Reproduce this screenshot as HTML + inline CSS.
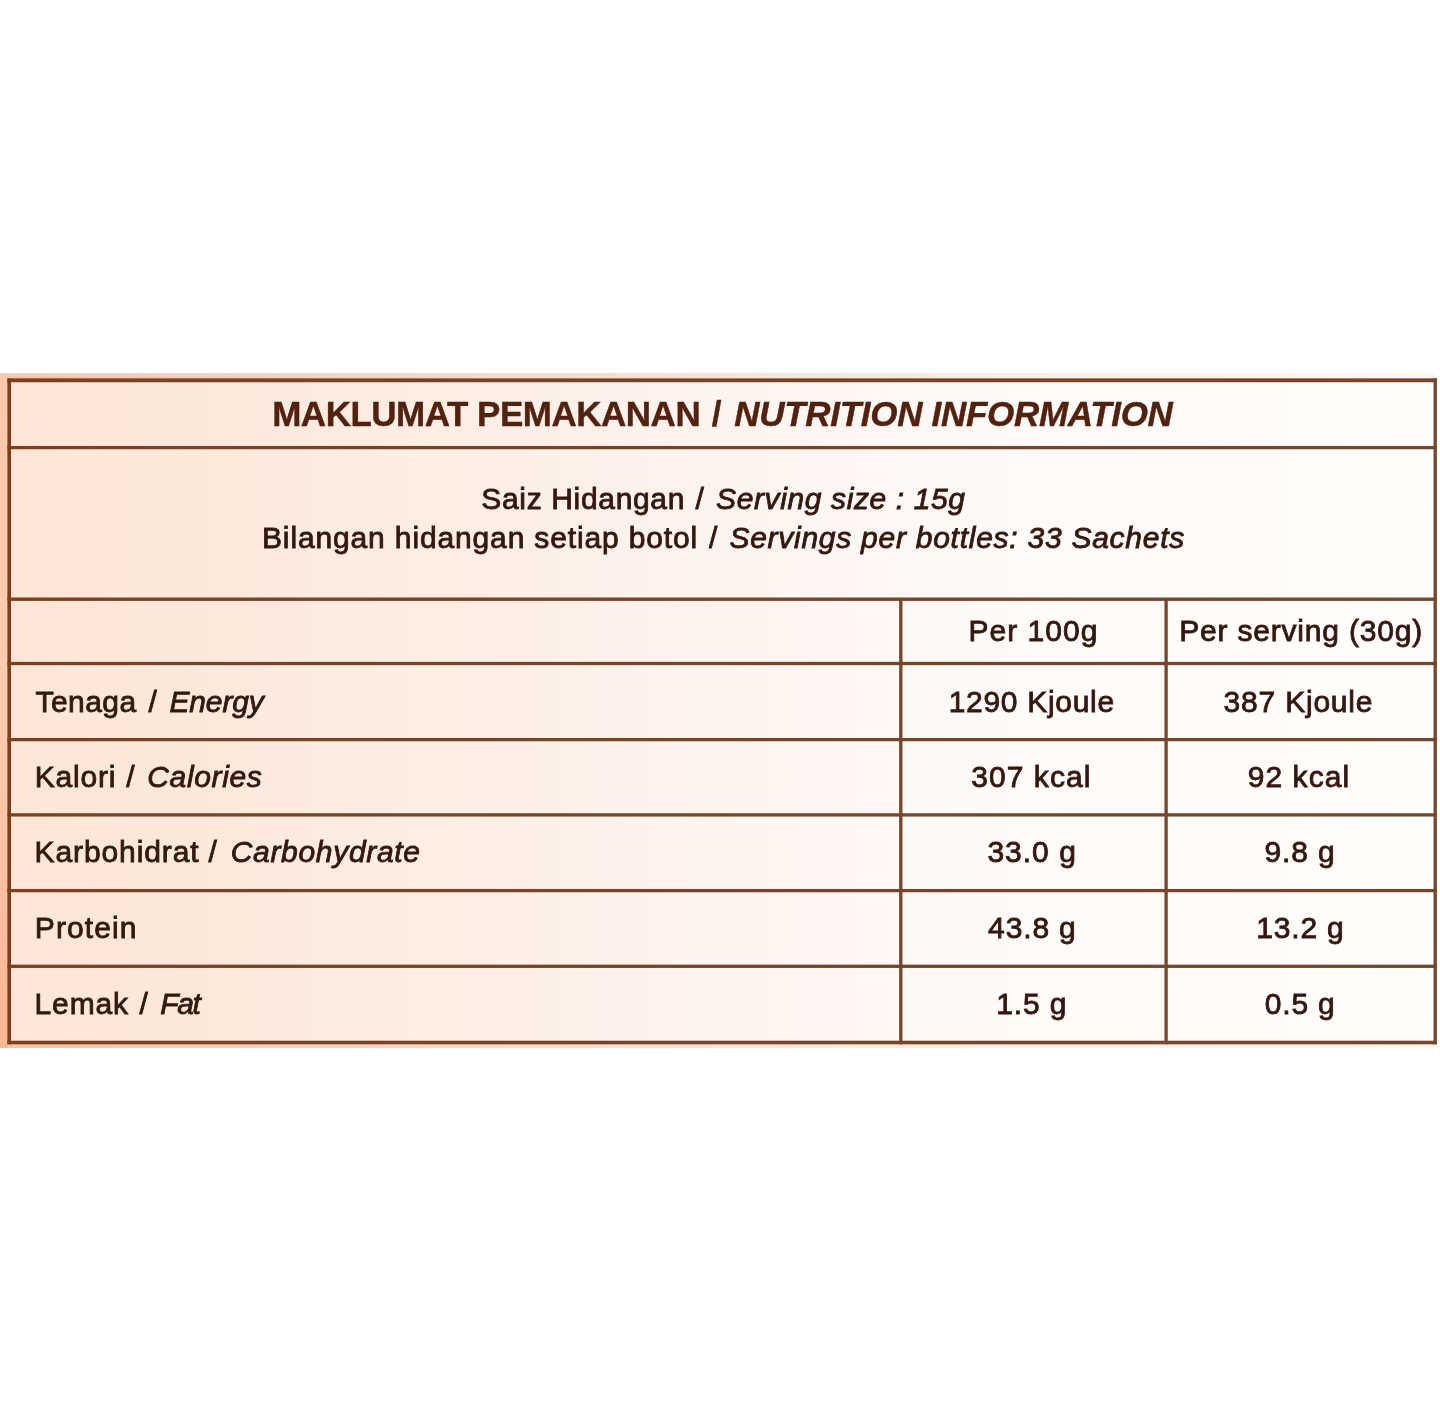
<!DOCTYPE html>
<html lang="ms">
<head>
<meta charset="utf-8">
<title>Maklumat Pemakanan / Nutrition Information</title>
<style>
*{margin:0;padding:0;box-sizing:border-box}
html,body{width:1440px;height:1411px;background:#fff;overflow:hidden}
body{position:relative;font-family:"Liberation Sans",Arial,sans-serif;color:#34180f}
#panel{position:absolute;left:0;top:373px;width:1438px;height:675px;
 background:linear-gradient(90deg,#f6c4a8 0%,#f8cdb4 15%,#fad9c6 35%,#fce6d9 55%,#fdf0e8 75%,#fef6f1 100%)}
#topband{position:absolute;left:0;top:373px;width:1438px;height:3px;
 background:linear-gradient(90deg,#ecd0bc 0%,#f1dccd 35%,#f8ece3 65%,#fdf8f4 100%)}
#inner{position:absolute;left:9px;top:380px;width:1427px;height:663px;
 background:linear-gradient(90deg,#fde6d7 0%,#fce9dc 14%,#fdede2 28%,#fdf1eb 42%,#fef6f2 56%,#fefaf7 70%,#fffcfa 90%,#fffdfb 100%)}
#strip{position:absolute;left:0;top:375px;width:8px;height:673px;background:linear-gradient(180deg,#fbc9ae 0%,#facdb0 50%,#fab594 100%)}
#grid{position:absolute;left:0;top:0}
.t{position:absolute;white-space:nowrap;line-height:40px;height:40px;font-size:30px;-webkit-text-stroke:0.85px currentColor}
.T{font-size:35px;color:#52210f;-webkit-text-stroke:0.4px currentColor}
.b{font-weight:bold}
.i{font-style:italic}
</style>
</head>
<body>
<div id="panel"></div>
<div id="topband"></div>
<div id="inner"></div>
<div id="strip"></div>
<svg id="grid" width="1440" height="1411" viewBox="0 0 1440 1411"><defs><linearGradient id="lg" gradientUnits="userSpaceOnUse" x1="0" y1="0" x2="1440" y2="0"><stop offset="0" stop-color="#7e3e1b"/><stop offset="0.12" stop-color="#784326"/><stop offset="1" stop-color="#74462c"/></linearGradient></defs><g fill="url(#lg)">
<rect x="7.40" y="378.35" width="1429.45" height="3.9"/>
<rect x="7.40" y="445.95" width="1429.45" height="3.3"/>
<rect x="7.40" y="597.50" width="1429.45" height="3.4"/>
<rect x="7.40" y="661.85" width="1429.45" height="3.3"/>
<rect x="7.40" y="737.95" width="1429.45" height="3.3"/>
<rect x="7.40" y="813.25" width="1429.45" height="3.3"/>
<rect x="7.40" y="888.95" width="1429.45" height="3.3"/>
<rect x="7.40" y="964.65" width="1429.45" height="3.3"/>
<rect x="7.40" y="1040.70" width="1429.45" height="3.6"/>
<rect x="7.40" y="378.35" width="3.6" height="665.95"/>
<rect x="1433.55" y="378.35" width="3.3" height="665.95"/>
<rect x="899.15" y="599.20" width="3.3" height="445.10"/>
<rect x="1164.45" y="599.20" width="3.3" height="445.10"/>
</g></svg>
<span class="t b T" id="ta" style="left:272.2px;top:394.3px;letter-spacing:-0.49px">MAKLUMAT PEMAKANAN</span>
<span class="t b T" id="tas" style="left:711.7px;top:394.3px;letter-spacing:0.00px">/</span>
<span class="t b i T" id="tb" style="left:734.3px;top:394.3px;letter-spacing:-0.30px">NUTRITION INFORMATION</span>
<span class="t" id="s1a" style="left:481.3px;top:478.7px;letter-spacing:0.66px">Saiz Hidangan</span>
<span class="t" id="s1s" style="left:695.6px;top:478.7px;letter-spacing:0.00px">/</span>
<span class="t i" id="s1b" style="left:716.1px;top:478.7px;letter-spacing:0.61px">Serving size : 15g</span>
<span class="t" id="s2a" style="left:262.0px;top:517.8px;letter-spacing:0.86px">Bilangan hidangan setiap botol</span>
<span class="t" id="s2s" style="left:709.0px;top:517.8px;letter-spacing:0.00px">/</span>
<span class="t i" id="s2b" style="left:729.4px;top:517.8px;letter-spacing:0.74px">Servings per bottles: 33 Sachets</span>
<span class="t" id="h1" style="left:968.5px;top:611.0px;letter-spacing:1.01px">Per 100g</span>
<span class="t" id="h2" style="left:1179.2px;top:611.0px;letter-spacing:0.81px">Per serving (30g)</span>
<span class="t" id="r1a" style="left:35.6px;top:681.7px;letter-spacing:0.42px">Tenaga</span>
<span class="t" id="r1s" style="left:148.4px;top:681.7px;letter-spacing:0.00px">/</span>
<span class="t i" id="r1b" style="left:169.4px;top:681.7px;letter-spacing:-0.13px">Energy</span>
<span class="t" id="r1c" style="left:948.7px;top:681.7px;letter-spacing:0.70px">1290 Kjoule</span>
<span class="t" id="r1d" style="left:1223.6px;top:681.7px;letter-spacing:0.79px">387 Kjoule</span>
<span class="t" id="r2a" style="left:34.7px;top:757.3px;letter-spacing:0.83px">Kalori</span>
<span class="t" id="r2s" style="left:126.2px;top:757.3px;letter-spacing:0.00px">/</span>
<span class="t i" id="r2b" style="left:147.3px;top:757.3px;letter-spacing:0.63px">Calories</span>
<span class="t" id="r2c" style="left:971.3px;top:757.3px;letter-spacing:1.04px">307 kcal</span>
<span class="t" id="r2d" style="left:1247.7px;top:757.3px;letter-spacing:1.07px">92 kcal</span>
<span class="t" id="r3a" style="left:34.5px;top:832.4px;letter-spacing:0.90px">Karbohidrat</span>
<span class="t" id="r3s" style="left:208.6px;top:832.4px;letter-spacing:0.00px">/</span>
<span class="t i" id="r3b" style="left:230.7px;top:832.4px;letter-spacing:0.69px">Carbohydrate</span>
<span class="t" id="r3c" style="left:987.4px;top:832.4px;letter-spacing:1.01px">33.0 g</span>
<span class="t" id="r3d" style="left:1264.6px;top:832.4px;letter-spacing:0.84px">9.8 g</span>
<span class="t" id="r4a" style="left:34.8px;top:907.9px;letter-spacing:1.10px">Protein</span>
<span class="t" id="r4c" style="left:988.1px;top:907.9px;letter-spacing:0.86px">43.8 g</span>
<span class="t" id="r4d" style="left:1256.2px;top:907.9px;letter-spacing:0.83px">13.2 g</span>
<span class="t" id="r5a" style="left:34.6px;top:983.6px;letter-spacing:0.84px">Lemak</span>
<span class="t" id="r5s" style="left:139.4px;top:983.6px;letter-spacing:0.00px">/</span>
<span class="t i" id="r5b" style="left:160.2px;top:983.6px;letter-spacing:-1.35px">Fat</span>
<span class="t" id="r5c" style="left:996.3px;top:983.6px;letter-spacing:0.88px">1.5 g</span>
<span class="t" id="r5d" style="left:1264.8px;top:983.6px;letter-spacing:0.79px">0.5 g</span>
</body>
</html>
